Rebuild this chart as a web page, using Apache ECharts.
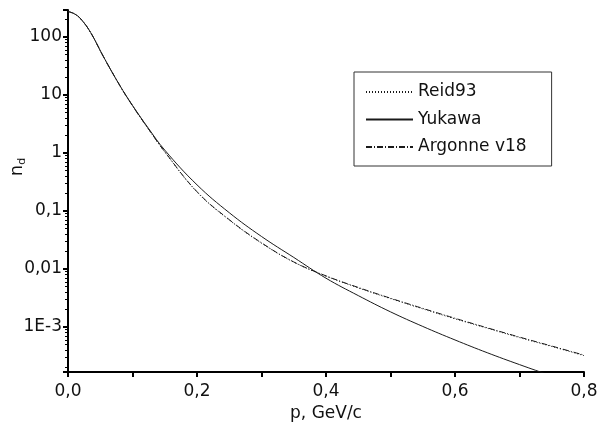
<!DOCTYPE html>
<html>
<head>
<meta charset="utf-8">
<script src="https://cdn.jsdelivr.net/npm/echarts@6/dist/echarts.min.js"></script>
<style>
  html, body { margin: 0; padding: 0; background: #fff; }
  #app { width: 600px; height: 430px; }
</style>
</head>
<body>
<div id="app"></div>
<script>
// momentum grid, GeV/c
const pValues = [0, 0.01, 0.02, 0.035, 0.055, 0.08, 0.1, 0.125, 0.15, 0.2, 0.25, 0.3,
  0.35, 0.4, 0.45, 0.5, 0.55, 0.6, 0.65, 0.7, 0.75, 0.8];

const reid93 = [275, 249, 202, 119, 45.5, 14.7, 6.5, 2.55, 1.04, 0.212, 0.0698, 0.0278,
  0.0131, 0.00752, 0.00472, 0.00308, 0.00205, 0.00138, 9.5e-4, 6.55e-4, 4.6e-4, 3.2e-4];
const yukawa = [275, 251, 204, 120, 45.7, 14.8, 6.61, 2.63, 1.12, 0.282, 0.0933, 0.0363,
  0.0158, 0.00692, 0.00347, 0.00182, 0.00102, 5.96e-4, 3.59e-4, 2.24e-4, 1.43e-4, 9.3e-5];
const argonne = [275, 251, 204, 120, 45.7, 14.8, 6.53, 2.57, 1.05, 0.215, 0.0708, 0.0282,
  0.0132, 0.00759, 0.00479, 0.00313, 0.00209, 0.00141, 9.66e-4, 6.68e-4, 4.68e-4, 3.27e-4];

const yTickValues = [100, 10, 1, 0.1, 0.01, 0.001];
const yTickLabels = ["100", "10", "1", "0,1", "0,01", "1E-3"];

const FONT = "DejaVu Sans";

function pairs(ys) {
  return pValues.map((p, i) => [p, ys[i]]);
}

function curve(name, data, dash) {
  return {
    name: name,
    type: "line",
    data: pairs(data),
    symbol: "none",
    smooth: 0.4,
    itemStyle: { color: "#1a1a1a" },
    lineStyle: { color: "#1a1a1a", width: 1, type: dash }
  };
}

function yLabel(v) {
  for (let i = 0; i < yTickValues.length; i++) {
    if (Math.abs(Math.log10(v) - Math.log10(yTickValues[i])) < 1e-6) return yTickLabels[i];
  }
  return "";
}

const chart = echarts.init(document.getElementById("app"), null, { renderer: "canvas" });

chart.setOption({
  backgroundColor: "#fff",
  animation: false,
  grid: { left: 68, right: 16, top: 10, bottom: 58, containLabel: false, outerBoundsMode: "none" },
  legend: {
    orient: "vertical",
    left: 354,
    top: 72,
    padding: [11, 25, 10, 11],
    itemWidth: 47,
    itemHeight: 14,
    itemGap: 9.5,
    borderColor: "#333",
    borderWidth: 1,
    itemStyle: { opacity: 0 },
    textStyle: { fontFamily: FONT, fontSize: 17, lineHeight: 18, color: "#111" },
    data: ["Reid93", "Yukawa", "Argonne v18"]
  },
  xAxis: {
    type: "value",
    min: 0,
    max: 0.8,
    interval: 0.2,
    name: "p, GeV/c",
    nameLocation: "middle",
    nameGap: 26,
    nameTextStyle: { fontFamily: FONT, fontSize: 17, color: "#111" },
    axisLine: { lineStyle: { color: "#000", width: 2 } },
    axisTick: { show: true, length: 5, inside: false, lineStyle: { color: "#000", width: 2 } },
    minorTick: { show: true, splitNumber: 2, length: 5, lineStyle: { color: "#000", width: 2 } },
    axisLabel: {
      fontFamily: FONT, fontSize: 17, color: "#111", margin: 11,
      formatter: v => v.toFixed(1).replace(".", ",")
    },
    splitLine: { show: false }
  },
  yAxis: {
    type: "log",
    logBase: 10,
    min: 1.67e-4,
    max: 292,
    name: "n{d|d}",
    nameLocation: "middle",
    nameGap: 40,
    nameMoveOverlap: false,
    nameRotate: 90,
    nameTextStyle: {
      fontFamily: FONT, fontSize: 18, color: "#111",
      padding: [0, 0, 0, 48],
      rich: { d: { fontFamily: FONT, fontSize: 11, color: "#111", padding: [10, 0, 0, 0] } }
    },
    axisLine: { show: true, lineStyle: { color: "#000", width: 2 } },
    axisTick: { show: true, length: 5, lineStyle: { color: "#000", width: 2 } },
    minorTick: { show: true, splitNumber: 9, length: 3, lineStyle: { color: "#000", width: 1 } },
    axisLabel: {
      fontFamily: FONT, fontSize: 17, color: "#111", margin: 6,
      showMinLabel: false, showMaxLabel: false,
      formatter: yLabel
    },
    splitLine: { show: false }
  },
  series: [
    curve("Reid93", reid93, [1, 2]),
    curve("Yukawa", yukawa, "solid"),
    curve("Argonne v18", argonne, [6, 2, 1, 2])
  ]
});

window.onresize = function() {
  chart.resize();
};
</script>
</body>
</html>
